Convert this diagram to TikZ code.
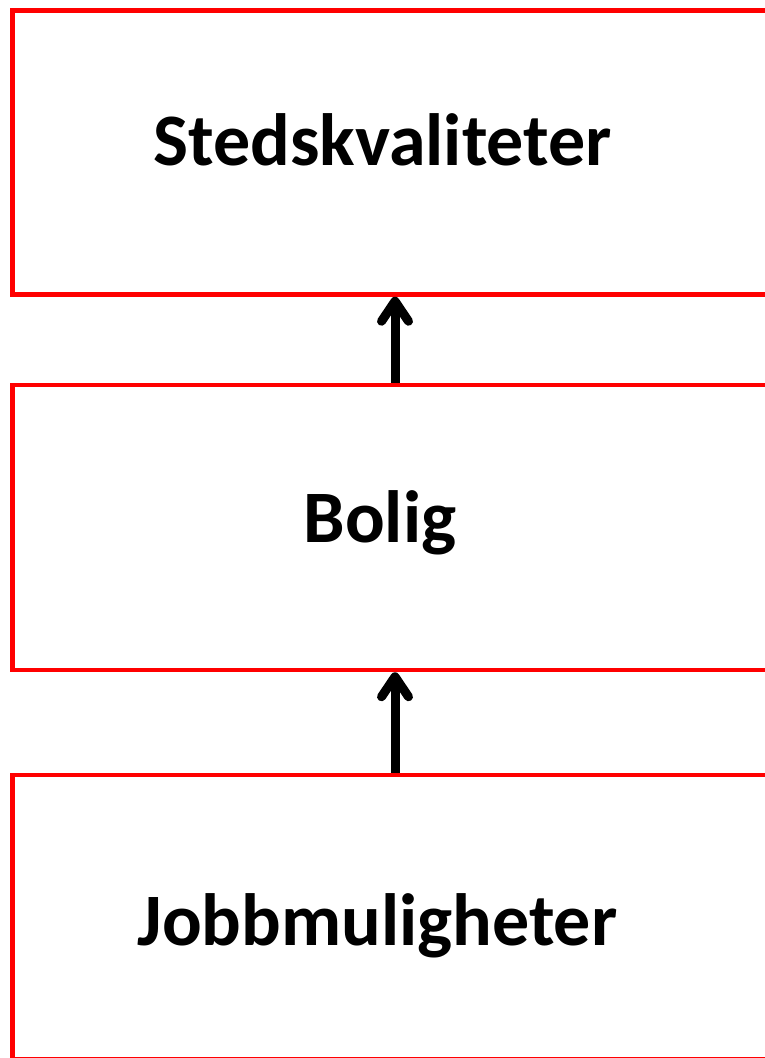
\documentclass[tikz,border=0pt]{standalone}
\usepackage{fontspec}
\setmainfont{Carlito}
\usetikzlibrary{arrows.meta}
\definecolor{boxred}{RGB}{255,0,0}
\tikzset{
  redbox/.style={draw=boxred, line width=4.5pt, minimum width=765pt, inner sep=0pt, rectangle},
  lbl/.style={anchor=base, font=\fontsize{74}{80}\selectfont\bfseries, inner sep=0pt},
  uparrow/.style={line width=9pt, -{Straight Barb[length=20pt, width=27pt, round]}}
}
\begin{document}
\begin{tikzpicture}[x=1pt,y=-1pt]
\useasboundingbox (0,0) rectangle (765,1058);
\clip (0,0) rectangle (765,1058);
\node[redbox, minimum height=284pt] (b1) at (395,152.5) {};
\node[redbox, minimum height=285pt] (b2) at (395,527.5) {};
\node[redbox, minimum height=284.5pt] (b3) at (395,917.25) {};
\node[lbl] (t1) at (382.5,165) {Stedskvaliteter};
\node[lbl] (t2) at (380,542) {Bolig};
\node[lbl] (t3) at (377.5,945) {Jobbmuligheter};
\draw[uparrow] (b2.north) -- (b1.south);
\draw[uparrow] (b3.north) -- (b2.south);
\end{tikzpicture}
\end{document}
